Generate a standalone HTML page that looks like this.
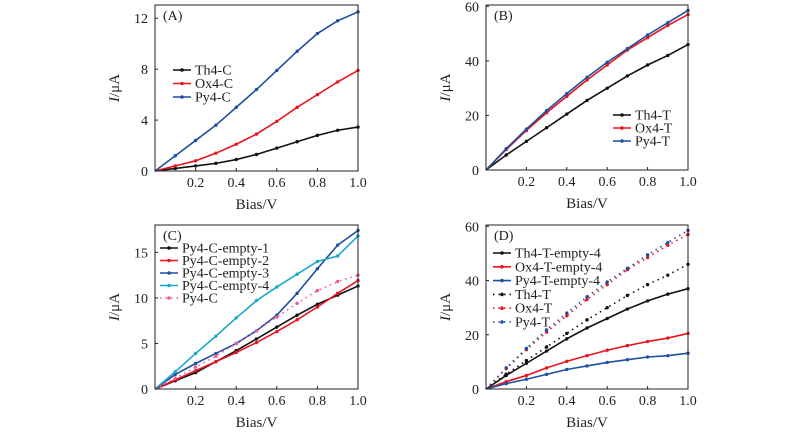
<!DOCTYPE html>
<html><head><meta charset="utf-8"><style>
body{margin:0;background:#fff}
svg{display:block;font-family:"Liberation Serif",serif}
</style></head><body>
<svg id="c" width="800" height="441"></svg>
<script>
const xVals=[0,0.1,0.2,0.3,0.4,0.5,0.6,0.7,0.8,0.9,1.0];
const xTicks=[0.2,0.4,0.6,0.8,1.0];
const aTh4C=[0,0.2,0.4,0.6,0.9,1.3,1.8,2.3,2.8,3.2,3.45];
const aOx4C=[0,0.4,0.8,1.4,2.1,2.9,3.9,5.0,6.0,7.0,7.9];
const aPy4C=[0,1.2,2.4,3.6,5.0,6.4,7.9,9.4,10.8,11.8,12.5];
const bTh4T=[0,5.5,10.5,15.5,20.5,25.5,30,34.5,38.5,42,46];
const bOx4T=[0,7.5,14.5,21,27,33,38.5,44,48.5,53,57];
const bPy4T=[0,7.8,15,21.8,28,34,39.5,44.5,49.5,54,58.5];
const cE1=[0,0.9,1.8,3.0,4.2,5.5,6.8,8.1,9.3,10.3,11.3];
const cE2=[0,1.0,2.0,3.0,4.0,5.1,6.3,7.6,9.0,10.5,11.9];
const cE3=[0,1.6,2.8,3.9,5.0,6.4,8.1,10.5,13.2,15.8,17.4];
const cE4=[0,1.9,3.9,5.8,7.8,9.7,11.2,12.6,14.0,14.6,16.8];
const dTh=[0,5,9.5,14,18.5,22.5,26,29.5,32.5,35,37];
const dOx=[0,2.7,5,7.8,10.2,12.3,14.3,16,17.5,18.8,20.5];
const dPy=[0,2,3.6,5.4,7.2,8.5,9.8,10.8,11.8,12.3,13.2];
const yTicksA=[0,4,8,12], yTicksB=[0,20,40,60], yTicksC=[0,5,10,15], yTicksD=[0,20,40,60];

const K='#111',R='#e8141e',B='#1f4fa0',C='#1aa7c8',P='#ee5a9a';
const svg=document.getElementById('c');
const NS='http://www.w3.org/2000/svg';
function mk(t,a,p){const e=document.createElementNS(NS,t);for(const k in a)e.setAttribute(k,a[k]);(p||svg).appendChild(e);return e;}

function panel(id,L,Rr,T,Bt,ymax,yT,label,series,legend){
  const g=mk('g',{});
  
  
  const sx=v=>L+v*(Rr-L), sy=v=>Bt-v/ymax*(Bt-T);
  series.forEach(s=>{
    const pts=s.d.map((v,i)=>sx(xVals[i])+','+sy(v)).join(' ');
    const pl=mk('polyline',{points:pts,fill:'none',stroke:s.c,'stroke-width':1.6,'stroke-dasharray':s.dot?'1.5 4':'none'},g);
    
    
    s.d.forEach((v,i)=>{if(i==0)return;
      const m=mk('circle',{cx:sx(xVals[i]),cy:sy(v),r:1.7,fill:s.c},g);
      
      
    });
  });
  const fr=mk('rect',{x:L,y:T,width:Rr-L,height:Bt-T,fill:'none',stroke:'#222','stroke-width':1},g);
  
  
  xTicks.forEach(v=>{
    mk('line',{x1:sx(v),x2:sx(v),y1:Bt,y2:Bt-3,stroke:'#222'},g);
    const t=mk('text',{x:sx(v),y:Bt+16,'font-size':14,'text-anchor':'middle',fill:'#222'},g);t.textContent=v.toFixed(1);
    
    
  });
  yT.forEach(v=>{
    mk('line',{x1:L,x2:L+3,y1:sy(v),y2:sy(v),stroke:'#222'},g);
    const t=mk('text',{x:L-7,y:sy(v)+5,'font-size':14,'text-anchor':'end',fill:'#222'},g);t.textContent=v;
    
    
  });
  const xt=mk('text',{x:(L+Rr)/2,y:Bt+38,'font-size':15,'text-anchor':'middle',fill:'#222'},g);xt.textContent='Bias/V';
  
  
  const yt=mk('text',{x:0,y:0,'font-size':15,'text-anchor':'middle',fill:'#222',transform:`translate(${L-36},${(T+Bt)/2}) rotate(-90)`},g);
  yt.innerHTML='<tspan font-style="italic">I</tspan>/μA';
  
  
  const pl=mk('text',{x:L+8,y:T+15,'font-size':14,fill:'#222'},g);pl.textContent=label;
  
  
  legend.rows.forEach((s,i)=>{
    const y=legend.y+i*legend.dy;
    mk('line',{x1:legend.x,x2:legend.x+18,y1:y,y2:y,stroke:s.c,'stroke-width':1.6,'stroke-dasharray':s.dot?'1.5 4':'none'},g);
    mk('circle',{cx:legend.x+9,cy:y,r:1.8,fill:s.c},g);
    const t=mk('text',{x:legend.x+22,y:y+4.5,'font-size':14,fill:'#222'},g);t.textContent=s.n;
    
    
  });
}
const sA=[{n:'Th4-C',d:aTh4C,c:K},{n:'Ox4-C',d:aOx4C,c:R},{n:'Py4-C',d:aPy4C,c:B}];
panel('a',155,358,5,171,13.04,yTicksA,'(A)',sA,{x:173,y:70,dy:13.5,rows:sA});
const sB=[{n:'Th4-T',d:bTh4T,c:K},{n:'Ox4-T',d:bOx4T,c:R},{n:'Py4-T',d:bPy4T,c:B}];
panel('b',486,688,5,170,60.5,yTicksB,'(B)',sB,{x:613,y:115,dy:13,rows:sB});
const sC=[{n:'Py4-C-empty-1',d:cE1,c:K},{n:'Py4-C-empty-2',d:cE2,c:R},{n:'Py4-C-empty-3',d:cE3,c:B},{n:'Py4-C-empty-4',d:cE4,c:C},{n:'Py4-C',d:aPy4C,c:P,dot:true}];
panel('c',155,358,225,389,18,yTicksC,'(C)',sC,{x:160,y:248,dy:12.5,rows:sC});
const sD=[{n:'Th4-T-empty-4',d:dTh,c:K},{n:'Ox4-T-empty-4',d:dOx,c:R},{n:'Py4-T-empty-4',d:dPy,c:B},{n:'Th4-T',d:bTh4T,c:K,dot:true},{n:'Ox4-T',d:bOx4T,c:R,dot:true},{n:'Py4-T',d:bPy4T,c:B,dot:true}];
panel('d',486,688,225,389,60.5,yTicksD,'(D)',sD,{x:493,y:253,dy:13.8,rows:sD});
</script>
</body></html>
